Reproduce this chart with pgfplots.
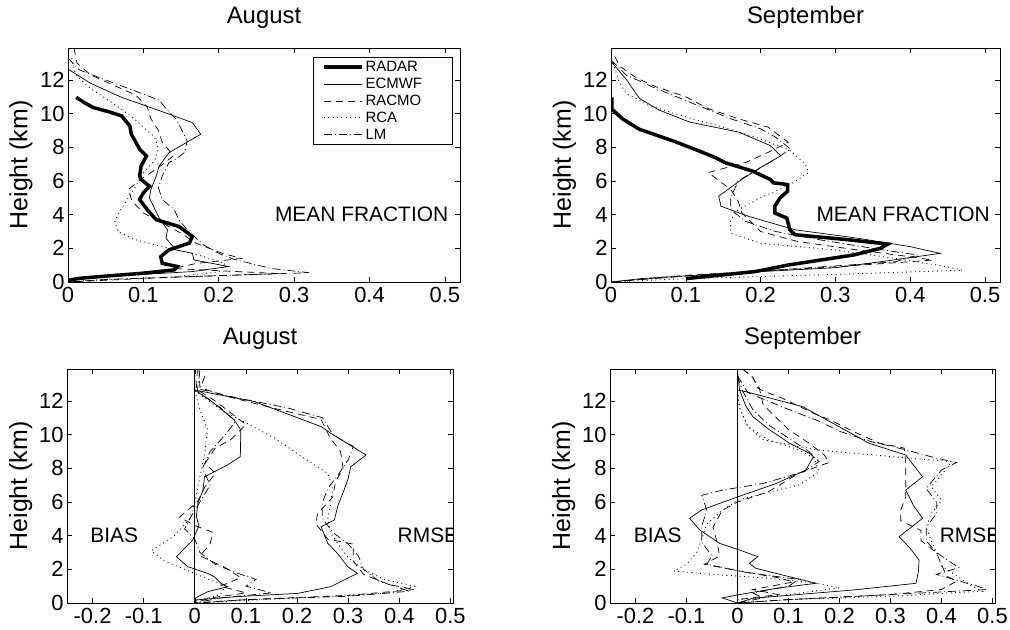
\documentclass[border=0pt]{standalone}
\usepackage{pgfplots}
\pgfplotsset{compat=1.18}
\usepackage{fontspec}
\setmainfont{Liberation Sans}
\tikzset{
 ecm/.style={black, line width=0.7bp},
 rac/.style={black, line width=0.7bp, dash pattern=on 7bp off 5bp},
 rca/.style={black, line width=0.9bp, dash pattern=on 0.9bp off 3.5bp},
 lm/.style={black, line width=0.7bp, dash pattern=on 8bp off 3bp on 0.9bp off 3bp},
 rad/.style={black, line width=3.5bp},
}
\pgfplotsset{
 myax/.style={scale only axis, anchor=south west, height=234bp, ymin=0, ymax=13.9,
  ytick={0,2,4,6,8,10,12}, tick align=inside, major tick length=5bp,
  axis line style={line width=0.8bp}, every tick/.style={black, line width=0.6bp},
  tick label style={font=\fontsize{22}{22}\selectfont},
  xticklabel style={yshift=-2bp},
  /pgf/number format/assume math mode=true,
  ylabel={Height (km)},
  ylabel style={font=\fontsize{25}{25}\selectfont, at={(axis description cs:-0.12,0.5)}, anchor=center},
  title style={font=\fontsize{24}{24}\selectfont, at={(axis description cs:0.5,1)}, anchor=base, yshift=19bp},
  clip=true},
 topax/.style={myax, xmin=0, xmax=0.52, xtick={0,0.1,0.2,0.3,0.4,0.5}},
 botax/.style={myax, xmin=-0.25, xmax=0.505, xtick={-0.2,-0.1,0,0.1,0.2,0.3,0.4,0.5}},
}
\newcommand{\txt}{\fontsize{21}{21}\selectfont}
\newcommand{\legtxt}[1]{\makebox[76bp][l]{\fontsize{15}{15}\selectfont #1}}
\begin{document}
\begin{tikzpicture}
\useasboundingbox (0,0) rectangle (1010bp,630bp);
% ---------------- top left: August mean
\begin{axis}[topax, at={(68bp,348bp)}, width=392bp, title={August},
  legend style={at={(rel axis cs:0.982,0.962)}, anchor=north east, draw=black, line width=0.8bp, row sep=1bp, inner xsep=9bp, inner ysep=2bp,
   /tikz/every even column/.append style={column sep=12bp}},
  legend cell align=left,
  legend image code/.code={\draw[#1] (0bp,0bp) -- (38bp,0bp);}]
\addplot[rad] coordinates {(0.011,10.97) (0.02,10.7) (0.033,10.37) (0.055,10.1) (0.071,9.87) (0.082,9.27) (0.084,8.78) (0.09,8.3) (0.095,7.88) (0.104,7.48) (0.097,6.89) (0.095,6.3) (0.097,6.09) (0.108,5.69) (0.1,5.3) (0.095,4.90) (0.105,4.3) (0.117,3.70) (0.147,3.30) (0.165,2.71) (0.161,2.31) (0.134,1.91) (0.123,1.51) (0.125,1.11) (0.145,0.92) (0.141,0.72) (0.099,0.52) (0.042,0.32) (0.016,0.22) (0.0,0.1)};
\addlegendentry{\legtxt{RADAR}}
\addplot[ecm] coordinates {(0,12.65) (0.03,11.8) (0.071,10.97) (0.12,10.2) (0.165,9.47) (0.176,8.78) (0.134,7.68) (0.121,6.89) (0.117,6.29) (0.110,5.49) (0.108,5.0) (0.121,3.80) (0.132,3.10) (0.13,2.6) (0.143,1.91) (0.165,1.71) (0.167,1.31) (0.213,0.92) (0.165,0.62) (0.08,0.4) (0.033,0.32) (0.005,0.1) (0,0)};
\addlegendentry{\legtxt{ECMWF}}
\addplot[rac] coordinates {(0.008,13.9) (0.012,13.0) (0.03,12.3) (0.06,11.7) (0.09,11.1) (0.105,10.4) (0.11,9.7) (0.12,9.0) (0.125,8.3) (0.14,7.5) (0.12,6.8) (0.1,6.2) (0.08,5.5) (0.085,4.8) (0.1,4.1) (0.125,3.5) (0.15,2.9) (0.17,2.3) (0.205,1.7) (0.23,1.4) (0.17,1.1) (0.14,0.8) (0.28,0.5) (0.12,0.25) (0,0)};
\addlegendentry{\legtxt{RACMO}}
\addplot[rca] coordinates {(0.005,13.3) (0.01,12.3) (0.03,11.5) (0.06,10.6) (0.085,9.8) (0.1,9.2) (0.115,8.6) (0.12,7.9) (0.115,7.2) (0.1,6.5) (0.09,5.7) (0.08,5.0) (0.07,4.3) (0.062,3.6) (0.066,3.0) (0.09,2.5) (0.125,2.1) (0.173,1.6) (0.208,1.1) (0.2,0.6) (0.14,0.3) (0.03,0.1) (0,0)};
\addlegendentry{\legtxt{RCA}}
\addplot[lm] coordinates {(0.0,13.3) (0.015,12.6) (0.05,12.0) (0.08,11.5) (0.121,10.8) (0.13,10.3) (0.143,9.7) (0.15,9.1) (0.158,8.4) (0.155,7.7) (0.143,7.3) (0.134,7.1) (0.125,6.3) (0.12,5.6) (0.125,4.9) (0.141,4.3) (0.147,3.7) (0.16,3.0) (0.18,2.2) (0.2,1.7) (0.22,1.35) (0.27,0.8) (0.32,0.55) (0.18,0.35) (0.05,0.15) (0,0)};
\addlegendentry{\legtxt{LM}}
\node[anchor=west, font=\txt] at (axis cs:0.27,4) {MEAN FRACTION};
\end{axis}
% ---------------- top right: September mean
\begin{axis}[topax, at={(611bp,348bp)}, width=389bp, title={September}]
\addplot[ecm] coordinates {(0,13.1) (0.021,12.0) (0.038,10.9) (0.065,10.2) (0.105,9.5) (0.171,8.9) (0.213,8.1) (0.227,7.5) (0.2,6.8) (0.175,6.1) (0.144,5.1) (0.147,4.5) (0.184,3.9) (0.246,3.1) (0.33,2.6) (0.40,2.1) (0.44,1.7) (0.36,1.2) (0.3,0.85) (0.15,0.5) (0.04,0.2) (0,0)};
\addplot[rac] coordinates {(0.005,13.4) (0.012,12.8) (0.035,12.1) (0.06,11.6) (0.1,11.0) (0.13,10.3) (0.17,9.7) (0.21,9.2) (0.237,8.3) (0.21,7.7) (0.18,7.1) (0.13,6.5) (0.16,5.5) (0.17,4.8) (0.175,4.1) (0.2,3.0) (0.25,2.4) (0.33,1.9) (0.4,1.5) (0.43,1.3) (0.3,0.9) (0.1,0.4) (0,0)};
\addplot[rca] coordinates {(0.003,13.0) (0.01,12.0) (0.02,11.2) (0.05,10.5) (0.1,9.8) (0.15,9.2) (0.2,8.5) (0.24,7.8) (0.26,7.0) (0.264,6.5) (0.24,5.8) (0.2,5.0) (0.17,4.3) (0.16,3.7) (0.16,2.9) (0.2,2.3) (0.3,1.9) (0.38,1.4) (0.45,0.9) (0.47,0.7) (0.3,0.45) (0.1,0.2) (0,0)};
\addplot[lm] coordinates {(0.0,13.2) (0.02,12.3) (0.06,11.5) (0.11,10.6) (0.16,9.7) (0.2,9.1) (0.22,8.6) (0.24,7.9) (0.22,7.3) (0.2,6.8) (0.17,6.0) (0.16,5.0) (0.16,4.3) (0.18,3.6) (0.22,3.0) (0.28,2.5) (0.35,2.0) (0.41,1.6) (0.38,1.2) (0.25,0.8) (0.1,0.35) (0,0)};
\addplot[rad] coordinates {(0.001,10.97) (0.001,10.27) (0.016,9.67) (0.038,9.07) (0.083,8.38) (0.118,7.78) (0.14,7.38) (0.153,7.08) (0.189,6.59) (0.213,6.09) (0.217,5.89) (0.236,5.79) (0.236,5.39) (0.226,5.0) (0.219,4.50) (0.219,4.10) (0.235,3.80) (0.239,3.10) (0.246,2.81) (0.317,2.51) (0.37,2.25) (0.36,2.0) (0.325,1.61) (0.237,1.01) (0.193,0.62) (0.1,0.2)};
\node[anchor=west, font=\txt] at (axis cs:0.27,4) {MEAN FRACTION};
\end{axis}
% ---------------- bottom left: August bias / rmse
\begin{axis}[botax, at={(67bp,27bp)}, width=386bp, title={August}]
\addplot[black, line width=0.7bp] coordinates {(0,0) (0,13.9)};
% bias
\addplot[ecm] coordinates {(0,13.9) (0,12.65) (0.038,11.86) (0.077,10.87) (0.09,10.28) (0.089,8.69) (0.064,8.2) (0.019,7.5) (0.016,6.71) (0.006,5.92) (0.003,5.13) (0.008,4.6) (-0.004,3.74) (-0.036,2.75) (-0.014,2.16) (0.025,1.76) (0.038,1.56) (0.051,1.17) (0.064,0.97) (0.025,0.67) (0,0.28) (0,0)};
\addplot[rac] coordinates {(0.005,13.9) (0.003,12.7) (0.04,12.0) (0.07,11.3) (0.1,10.6) (0.07,9.7) (0.04,9.2) (0.02,8.3) (0.04,7.7) (0.02,6.9) (0.005,6.0) (-0.03,5.1) (0.0,4.6) (0.035,4.2) (0.03,3.5) (0.01,2.8) (0.06,2.1) (0.09,1.5) (0.05,1.0) (0.1,0.6) (0.03,0.3) (0,0)};
\addplot[rca] coordinates {(0,12.6) (0.01,11.5) (0.025,10.3) (0.02,9) (0.01,7.5) (0.0,6.0) (-0.01,5.0) (-0.04,4.0) (-0.085,3.1) (-0.06,2.5) (-0.02,2.0) (0.02,1.5) (0.06,1.0) (0.05,0.5) (0,0.1)};
\addplot[lm] coordinates {(0.01,13.8) (0.005,12.6) (0.05,11.6) (0.08,10.8) (0.06,10.0) (0.03,9.0) (0.015,8.0) (0.03,7.0) (0.01,6.0) (-0.01,5.0) (-0.02,4.4) (0.0,3.8) (0.01,3.0) (0.04,2.3) (0.08,1.8) (0.12,1.4) (0.1,1.0) (0.15,0.6) (0.05,0.3) (0,0)};
% rmse
\addplot[ecm] coordinates {(0,12.65) (0.117,11.96) (0.247,10.48) (0.266,10.08) (0.335,8.79) (0.305,8.1) (0.3,7.4) (0.292,6.71) (0.28,5.8) (0.273,4.93) (0.247,4.53) (0.26,3.54) (0.279,2.95) (0.299,2.16) (0.318,1.76) (0.266,0.97) (0.201,0.57) (0.084,0.38) (0,0.18) (0,0)};
\addplot[rac] coordinates {(0.008,13.9) (0.01,12.8) (0.06,12.3) (0.15,11.6) (0.247,10.9) (0.265,9.8) (0.285,9.0) (0.29,8.0) (0.275,7.2) (0.27,6.3) (0.24,5.3) (0.237,4.7) (0.26,3.8) (0.31,3.5) (0.31,2.5) (0.33,1.7) (0.38,1.1) (0.43,0.8) (0.3,0.45) (0.1,0.2) (0,0)};
\addplot[rca] coordinates {(0,12.6) (0.05,11.5) (0.1,10.7) (0.156,9.8) (0.214,8.6) (0.26,7.7) (0.27,6.8) (0.265,5.8) (0.26,5.0) (0.265,4.2) (0.28,3.5) (0.3,2.7) (0.33,2.0) (0.37,1.4) (0.43,1.0) (0.38,0.6) (0.2,0.3) (0,0)};
\addplot[lm] coordinates {(0.02,13.5) (0.01,12.7) (0.08,12.2) (0.18,11.6) (0.25,11.0) (0.27,10.0) (0.31,9.3) (0.3,8.5) (0.28,7.6) (0.26,6.8) (0.25,6.0) (0.25,5.0) (0.27,4.2) (0.3,3.5) (0.32,2.8) (0.33,2.0) (0.36,1.3) (0.42,0.7) (0.3,0.4) (0.1,0.2) (0,0)};
\node[anchor=west, font=\txt] at (axis cs:-0.211,4) {BIAS};
\node[anchor=west, font=\txt] at (axis cs:0.39,4) {RMSE};
\end{axis}
% ---------------- bottom right: September bias / rmse
\begin{axis}[botax, at={(610bp,27bp)}, width=385bp, title={September}]
\addplot[black, line width=0.7bp] coordinates {(0,0) (0,13.9)};
% bias
\addplot[ecm] coordinates {(0,13.8) (0.004,12.65) (0.017,11.66) (0.03,11.07) (0.063,10.28) (0.102,9.49) (0.141,8.89) (0.149,8.69) (0.134,7.9) (0.076,7.1) (0,6.3) (-0.071,5.52) (-0.094,5.03) (-0.074,4.34) (-0.035,3.54) (0.004,3.15) (0.04,2.75) (0.023,2.36) (0.036,2.06) (0.102,1.56) (0.154,1.17) (0.076,0.87) (0,0.48) (-0.03,0.3) (0,0)};
\addplot[rac] coordinates {(0.01,13.9) (0.03,13.4) (0.043,12.75) (0.05,11.8) (0.066,11.3) (0.1,10.3) (0.14,9.5) (0.17,8.8) (0.18,8.35) (0.12,7.7) (0.06,6.6) (0.0,6.0) (-0.03,5.5) (-0.048,4.5) (-0.04,3.6) (-0.035,2.8) (-0.065,2.3) (0.004,1.9) (0.08,1.5) (0.11,1.25) (0.03,0.8) (0.08,0.5) (0,0.2) (0,0)};
\addplot[rca] coordinates {(0,12.6) (0.005,11.5) (0.02,10.5) (0.06,9.7) (0.12,9.1) (0.15,8.6) (0.16,7.8) (0.12,7.0) (0.05,6.5) (0.0,6.1) (-0.03,5.5) (-0.06,4.7) (-0.07,3.8) (-0.08,3.0) (-0.1,2.3) (-0.125,1.9) (-0.05,1.7) (0.05,1.5) (0.15,1.2) (0.2,0.9) (0.1,0.5) (0,0.2)};
\addplot[lm] coordinates {(0.0,13.5) (0.01,12.6) (0.03,11.5) (0.06,10.6) (0.1,9.8) (0.14,9.0) (0.16,8.4) (0.13,7.8) (0.05,7.1) (-0.03,6.7) (-0.07,6.4) (-0.06,5.5) (-0.07,4.6) (-0.07,3.6) (-0.05,2.8) (-0.06,2.3) (0.02,1.8) (0.12,1.4) (0.1,1.0) (0.03,0.6) (0.05,0.3) (0,0)};
% rmse
\addplot[ecm] coordinates {(0,13.84) (0,12.65) (0.017,12.55) (0.128,11.66) (0.258,9.49) (0.33,8.79) (0.345,8.2) (0.363,7.5) (0.33,6.71) (0.345,5.8) (0.363,5.03) (0.317,3.94) (0.34,3.2) (0.356,2.55) (0.355,1.9) (0.35,1.17) (0.226,0.77) (0.03,0.28) (0,0)};
\addplot[rac] coordinates {(0.01,13.9) (0.03,13.4) (0.04,12.75) (0.063,12.45) (0.089,12.15) (0.154,11.2) (0.18,10.9) (0.226,10.2) (0.278,9.5) (0.327,9.2) (0.33,8.3) (0.33,7.8) (0.33,7.1) (0.33,6.3) (0.32,5.5) (0.32,4.9) (0.36,4.3) (0.36,3.7) (0.39,3.0) (0.41,1.6) (0.43,1.3) (0.4,0.8) (0.3,0.5) (0.1,0.2) (0,0)};
\addplot[rca] coordinates {(0,12.6) (0.005,11.5) (0.02,10.5) (0.05,9.7) (0.154,9.1) (0.3,8.7) (0.42,8.4) (0.4,7.6) (0.38,6.9) (0.4,6.1) (0.38,5.3) (0.37,4.5) (0.38,3.7) (0.39,3.0) (0.4,2.2) (0.43,1.6) (0.46,1.0) (0.48,0.7) (0.3,0.4) (0.1,0.2) (0,0)};
\addplot[lm] coordinates {(0.0,13.5) (0.02,12.5) (0.06,12.0) (0.1,11.5) (0.16,10.8) (0.2,10.2) (0.26,9.6) (0.33,9.1) (0.39,8.6) (0.43,8.35) (0.4,7.9) (0.37,6.8) (0.39,6.0) (0.39,5.3) (0.37,4.5) (0.37,3.7) (0.39,3.0) (0.434,2.1) (0.39,1.7) (0.47,1.0) (0.49,0.8) (0.3,0.5) (0.1,0.2) (0,0)};
\node[anchor=west, font=\txt] at (axis cs:-0.21,4) {BIAS};
\node[anchor=west, font=\txt] at (axis cs:0.39,4) {RMSE};
\end{axis}
\end{tikzpicture}
\end{document}
